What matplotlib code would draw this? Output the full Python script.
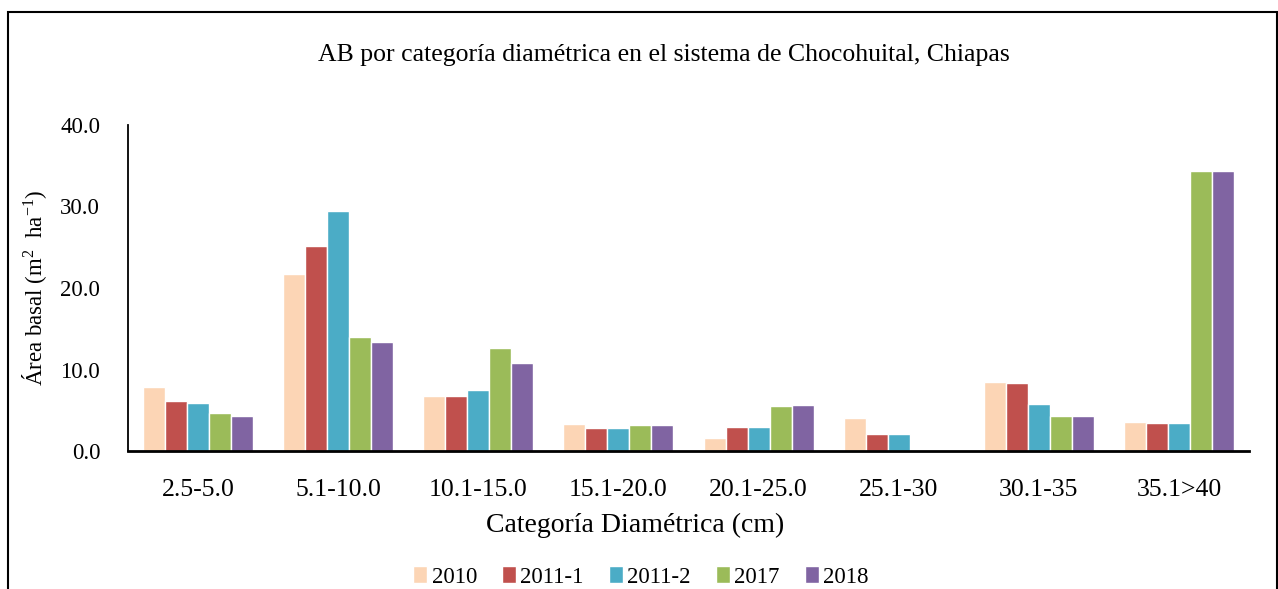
import numpy as np
import matplotlib.pyplot as plt
from matplotlib.patches import Rectangle

plt.rcParams['font.family'] = ['Liberation Serif', 'DejaVu Serif']
plt.rcParams['mathtext.fontset'] = 'custom'
plt.rcParams['mathtext.rm'] = 'Liberation Serif'
plt.rcParams['mathtext.it'] = 'Liberation Serif:italic'

# Diameter categories and basal area per year (m2 ha-1)
categories = ['2.5-5.0', '5.1-10.0', '10.1-15.0', '15.1-20.0', '20.1-25.0',
              '25.1-30', '30.1-35', '35.1>40']
years = ['2010', '2011-1', '2011-2', '2017', '2018']
ab_2010 = [7.8, 21.7, 6.7, 3.3, 1.6, 4.0, 8.5, 3.5]
ab_2011_1 = [6.1, 25.1, 6.7, 2.8, 3.0, 2.1, 8.4, 3.4]
ab_2011_2 = [5.9, 29.4, 7.5, 2.8, 3.0, 2.1, 5.8, 3.4]
ab_2017 = [4.7, 14.0, 12.6, 3.2, 5.5, 0.0, 4.3, 34.3]
ab_2018 = [4.3, 13.4, 10.8, 3.2, 5.6, 0.0, 4.3, 34.3]
series = [ab_2010, ab_2011_1, ab_2011_2, ab_2017, ab_2018]
colors = ['#FCD5B5', '#C0504D', '#4BACC6', '#9BBB59', '#8064A2']

W, H = 1278, 589
fig = plt.figure(figsize=(W / 100, H / 100), dpi=100)
ax = fig.add_axes([128 / W, 1 - 451 / H, (1249 - 128) / W, (451 - 125) / H])

x = np.arange(len(categories))
bw = 0.157
for k, (vals, yr, c) in enumerate(zip(series, years, colors)):
    ax.bar(x + (k - 2) * bw, vals, width=bw, color=c, edgecolor='white',
           linewidth=1.0, label=yr)

ax.set_xlim(-0.5, len(categories) - 0.5)
ax.set_ylim(0, 40)
ax.set_yticks(np.arange(0, 41, 10))
ax.set_yticklabels(['{:.1f}'.format(v) for v in np.arange(0, 41, 10)])
ax.set_xticks(x)
ax.set_xticklabels(categories)
ax.tick_params(axis='both', length=0)
ax.tick_params(axis='y', pad=20, labelsize=16.5)
ax.tick_params(axis='x', pad=20, labelsize=18.5)
for s in ['top', 'right']:
    ax.spines[s].set_visible(False)
ax.spines['left'].set_linewidth(1.3)
ax.spines['bottom'].set_linewidth(2.0)

fig.text(635 / W, 1 - 525 / H, 'Categoría Diamétrica (cm)', fontsize=20,
         ha='center', va='center')
fig.text(35 / W, 1 - 288 / H, r'Área basal (m$^{2}$  ha$^{-1}$)', fontsize=16.5,
         rotation=90, ha='center', va='center')
fig.text(664 / W, 1 - 55 / H,
         'AB por categoría diamétrica en el sistema de Chocohuital, Chiapas',
         fontsize=18.5, ha='center', va='center')

ax.legend(loc='center', bbox_to_anchor=((641 - 128) / (1249 - 128),
                                        (451 - 577) / (451 - 125)),
          ncol=5, frameon=False, fontsize=16.5, handlelength=0.6,
          handleheight=0.7, handletextpad=0.2, columnspacing=1.1)

fig.patches.append(Rectangle((8 / W, -0.1), (1277 - 8) / W, 1.1 - 12 / H,
                             transform=fig.transFigure, fill=False,
                             edgecolor='black', linewidth=1.5))

fig.savefig('out.png', dpi=100)
